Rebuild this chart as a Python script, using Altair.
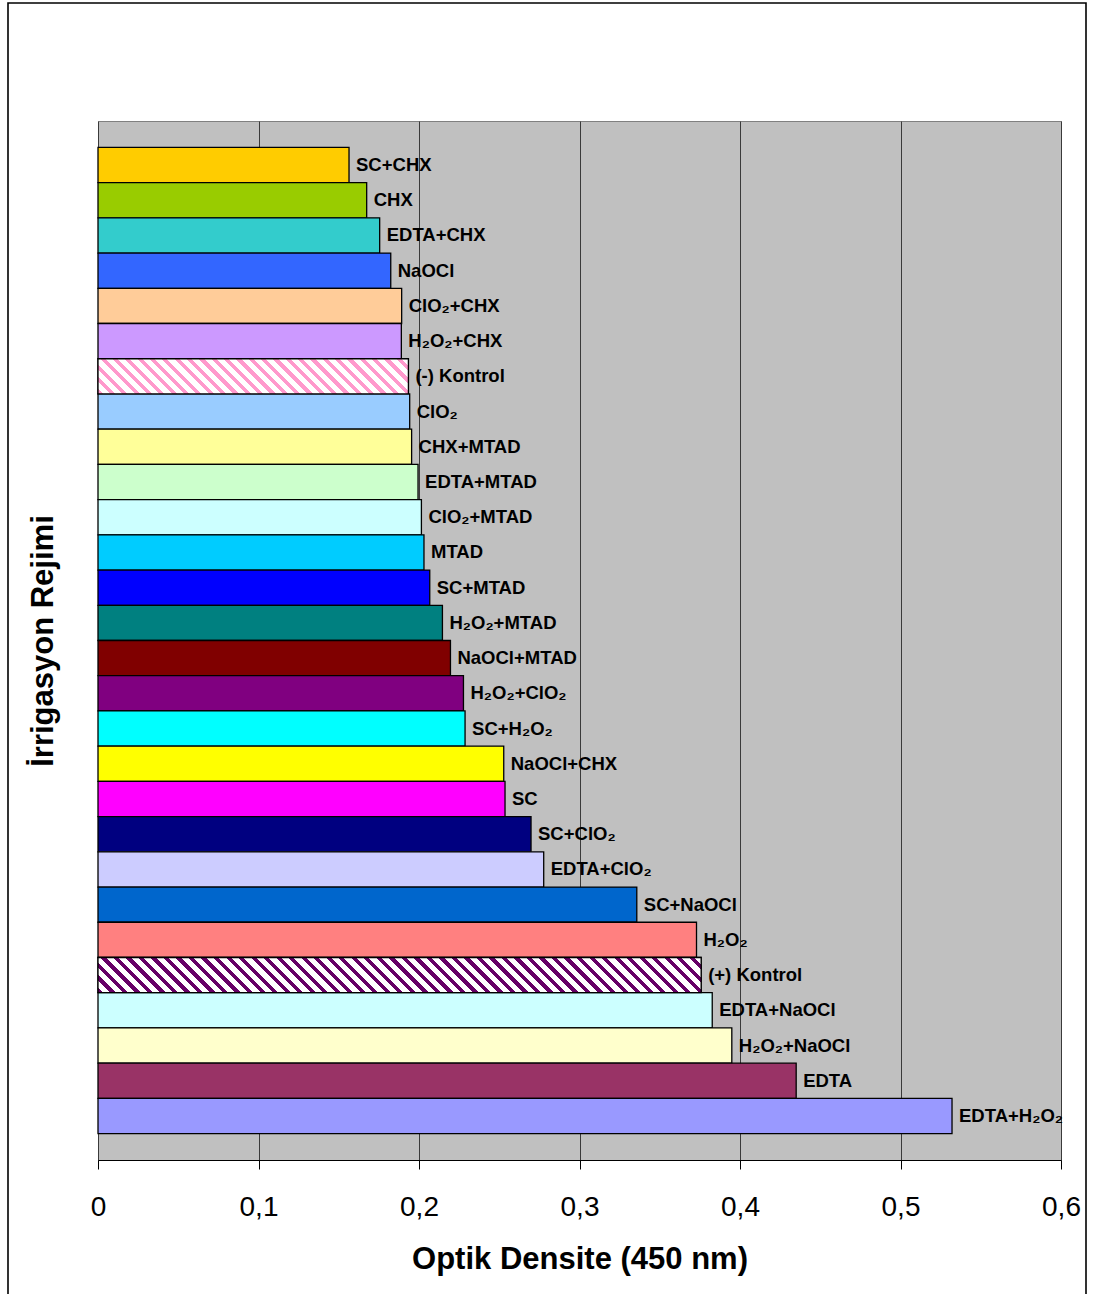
import altair as alt
import pandas as pd

# Irrigation regimens, top to bottom
regimens = [
    "SC+CHX", "CHX", "EDTA+CHX", "NaOCl", "ClO₂+CHX", "H₂O₂+CHX", "(-) Kontrol",
    "ClO₂", "CHX+MTAD", "EDTA+MTAD", "ClO₂+MTAD", "MTAD", "SC+MTAD", "H₂O₂+MTAD",
    "NaOCl+MTAD", "H₂O₂+ClO₂", "SC+H₂O₂", "NaOCl+CHX", "SC", "SC+ClO₂", "EDTA+ClO₂",
    "SC+NaOCl", "H₂O₂", "(+) Kontrol", "EDTA+NaOCl", "H₂O₂+NaOCl", "EDTA", "EDTA+H₂O₂",
]

# Optical density at 450 nm
od450 = [
    0.1564, 0.1674, 0.1755, 0.1824, 0.1892, 0.1890, 0.1934,
    0.1942, 0.1954, 0.1994, 0.2015, 0.2031, 0.2067, 0.2146,
    0.2196, 0.2277, 0.2287, 0.2528, 0.2536, 0.2698, 0.2777,
    0.3357, 0.3729, 0.3758, 0.3827, 0.3949, 0.4350, 0.5321,
]

# Bar fill colours (the two controls are hatched separately)
palette = [
    "#FFCC00", "#99CC00", "#33CCCC", "#3366FF", "#FFCC99", "#CC99FF", "#FFFFFF",
    "#99CCFF", "#FFFF99", "#CCFFCC", "#CCFFFF", "#00CCFF", "#0000FF", "#008080",
    "#800000", "#800080", "#00FFFF", "#FFFF00", "#FF00FF", "#000080", "#CCCCFF",
    "#0066CC", "#FF8080", "#FFFFFF", "#CCFFFF", "#FFFFCC", "#993366", "#9999FF",
]

x_ticks = [0, 0.1, 0.2, 0.3, 0.4, 0.5, 0.6]

df = pd.DataFrame({"rejim": regimens, "od": od450})

PLOT_W = 963
PLOT_H = 1039
PAD_OUTER = 0.75
BAND = PLOT_H / (len(regimens) + 2 * PAD_OUTER)
PX_PER_UNIT = PLOT_W / 0.6


def hatch(color, value, period=12.5, frac=0.42):
    """Diagonal stripe fill for a bar built from a hard-stop linear gradient."""
    w = value * PX_PER_UNIT
    h = BAND
    s = (1 / h + 1 / w) / (1 / h ** 2 + 1 / w ** 2)
    n = max(1, round((w + h) / period))
    stops = []
    for i in range(n):
        a, b, c = i / n, (i + frac) / n, (i + 1) / n
        stops += [
            alt.GradientStop(offset=round(a, 5), color=color),
            alt.GradientStop(offset=round(b, 5), color=color),
            alt.GradientStop(offset=round(b, 5), color="#FFFFFF"),
            alt.GradientStop(offset=round(c, 5), color="#FFFFFF"),
        ]
    return alt.Gradient(gradient="linear", stops=stops,
                        x1=0, y1=1, x2=s / h, y2=1 - s / w)


y_enc = alt.Y(
    "rejim:N", sort=regimens,
    scale=alt.Scale(paddingInner=0, paddingOuter=PAD_OUTER),
    axis=alt.Axis(
        title="İrrigasyon Rejimi", labels=False, ticks=False, domain=False,
        titleFont="Liberation Sans", titleFontSize=31, titleFontWeight="bold",
        titleColor="#000000", titleAngle=270, titleBaseline="alphabetic",
        titleX=-46,
    ),
)

x_enc = alt.X(
    "od:Q",
    scale=alt.Scale(domain=[0, 0.6], nice=False, zero=True),
    axis=alt.Axis(
        title="Optik Densite (450 nm)", values=x_ticks,
        labelExpr="replace(format(datum.value, '.1~f'), '.', ',')",
        labelFont="Liberation Sans", labelFontSize=28, labelColor="#000000",
        labelPadding=24, labelFlush=False,
        tickSize=9, tickColor="#000000", tickWidth=1,
        domainColor="#000000", domainWidth=1.2,
        grid=True, gridColor="#3A3A3A", gridWidth=1,
        titleFont="Liberation Sans", titleFontSize=31, titleFontWeight="bold",
        titleColor="#000000", titleBaseline="alphabetic", titleY=108,
    ),
)

base = alt.Chart(df)

bars = base.mark_bar(stroke="#000000", strokeWidth=1.3, opacity=1).encode(
    x=x_enc, y=y_enc,
    fill=alt.Fill("rejim:N", scale=alt.Scale(domain=regimens, range=palette), legend=None),
)

neg_val = od450[regimens.index("(-) Kontrol")]
pos_val = od450[regimens.index("(+) Kontrol")]

neg_hatch = base.transform_filter(alt.datum.rejim == "(-) Kontrol").mark_bar(
    stroke="#000000", strokeWidth=1.3, fill=hatch("#FF99CC", neg_val)
).encode(x="od:Q", y=alt.Y("rejim:N", sort=regimens))

pos_hatch = base.transform_filter(alt.datum.rejim == "(+) Kontrol").mark_bar(
    stroke="#000000", strokeWidth=1.3, fill=hatch("#660066", pos_val)
).encode(x="od:Q", y=alt.Y("rejim:N", sort=regimens))

labels = base.mark_text(
    align="left", baseline="middle", dx=7, font="Liberation Sans",
    fontSize=18.5, fontWeight="bold", color="#000000",
).encode(x="od:Q", y=alt.Y("rejim:N", sort=regimens), text="rejim:N")

frame = alt.Chart(pd.DataFrame({"k": [0]})).mark_rect(
    fillOpacity=0, stroke="#000000", strokeWidth=1.6
).encode(
    x=alt.value(-90), x2=alt.value(988), y=alt.value(-118), y2=alt.value(1200)
)

chart = alt.layer(bars, neg_hatch, pos_hatch, labels, frame).properties(
    width=PLOT_W, height=PLOT_H,
    autosize=alt.AutoSizeParams(type="none"),
    padding={"left": 98, "top": 121, "right": 32, "bottom": 134},
    background="#FFFFFF",
).configure_view(
    fill="#C0C0C0", stroke="#808080", strokeWidth=1,
)

chart.save("out.html", embed_options={"renderer": "svg", "actions": False})
